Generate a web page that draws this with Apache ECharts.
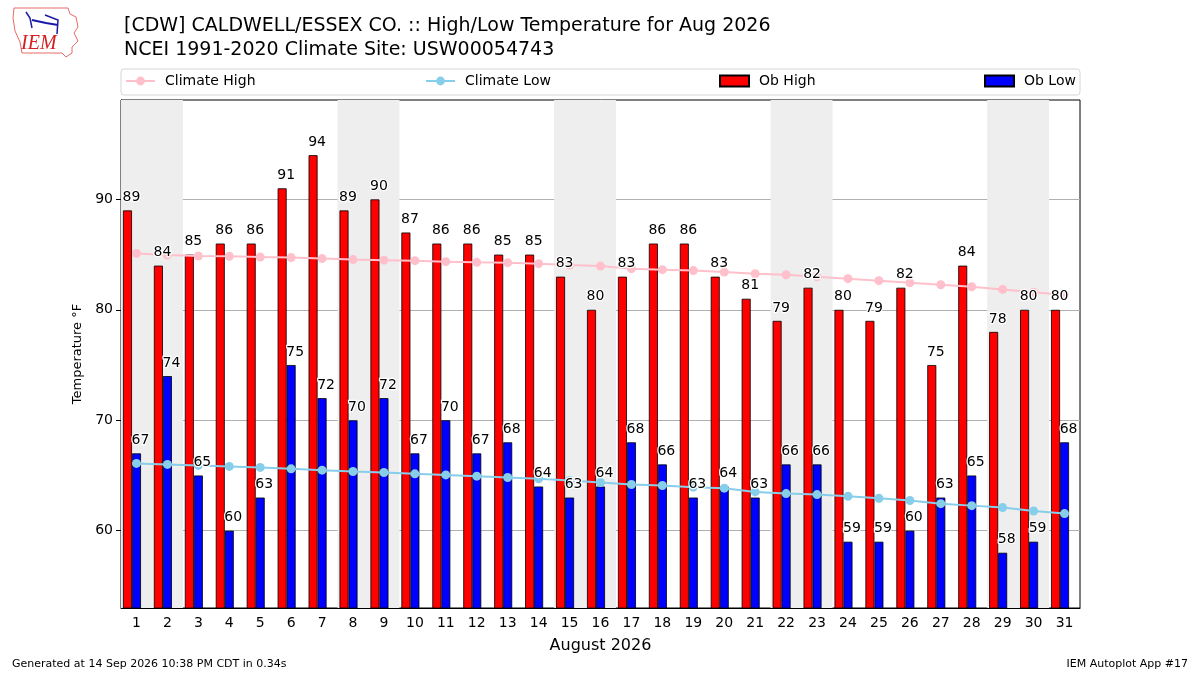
<!DOCTYPE html>
<html>
<head>
<meta charset="utf-8">
<title>CDW High/Low Temperature Aug 2026</title>
<script src="https://cdn.jsdelivr.net/npm/echarts@6.0.0/dist/echarts.min.js"></script>
<style>
    html, body { margin: 0; padding: 0; background: #fff; }
    #chart { width: 1200px; height: 675px; }
</style>
</head>
<body>
<div id="chart"></div>
<script>
// days of August 2026
const days = ['1','2','3','4','5','6','7','8','9','10','11','12','13','14','15','16',
    '17','18','19','20','21','22','23','24','25','26','27','28','29','30','31'];
// observed
const obHigh = [89,84,85,86,86,91,94,89,90,87,86,86,85,85,83,80,83,86,86,83,81,79,82,80,79,82,75,84,78,80,80];
const obLow = [67,74,65,60,63,75,72,70,72,67,70,67,68,64,63,64,68,66,63,64,63,66,66,59,59,60,63,65,58,59,68];
// NCEI 1991-2020 normals
const climateHigh = [85.1,84.96,84.87,84.85,84.78,84.73,84.64,84.55,84.5,84.45,84.36,84.3,84.27,84.18,84.05,83.96,
    83.73,83.64,83.55,83.42,83.27,83.18,83.0,82.82,82.64,82.45,82.27,82.09,81.85,81.6,81.36];
const climateLow = [66.09,66.0,65.91,65.82,65.73,65.6,65.48,65.36,65.27,65.15,65.05,64.94,64.82,64.7,64.55,64.36,
    64.18,64.09,63.94,63.85,63.51,63.36,63.27,63.12,62.94,62.73,62.45,62.27,62.09,61.78,61.55];
// weekends (Sat-Sun), day numbers
const weekends = [[1,2],[8,9],[15,16],[22,23],[29,30]];
const yTicks = [60,70,80,90];

const font = 'DejaVu Sans';
let myChart = echarts.init(document.getElementById('chart'));

let barLabel = {
    show: true,
    position: 'top',
    distance: 6,
    offset: [4, 0],
    color: '#000',
    fontFamily: font,
    fontSize: 14,
    textBorderColor: '#fff',
    textBorderWidth: 2.5
};
let legendBase = {
    top: 74,
    padding: 0,
    itemWidth: 29,
    itemHeight: 11,
    selectedMode: false,
    textStyle: {fontFamily: font, fontSize: 14, color: '#000', padding: [0, 0, 0, 5]}
};
// bar slot: two bars + an empty one so the pair sits left of the tick
function barSlot(name, data, axis, style, z, label) {
    return {
        name: name, type: 'bar', data: data, xAxisIndex: axis,
        barWidth: 9, barGap: 0, z: z, itemStyle: style, label: label,
        silent: axis === 1
    };
}
let hidden = {show: false, axisLine: {show: false}, axisTick: {show: false}, axisLabel: {show: false}, splitLine: {show: false}};

myChart.setOption({
    animation: false,
    backgroundColor: '#fff',
    title: {
        text: '[CDW] CALDWELL/ESSEX CO. :: High/Low Temperature for Aug 2026\nNCEI 1991-2020 Climate Site: USW00054743',
        left: 119,
        top: 9,
        textStyle: {fontFamily: font, fontSize: 19, fontWeight: 'normal', color: '#000', lineHeight: 24}
    },
    legend: [
        Object.assign({}, legendBase, {data: ['Climate High'], left: 125}),
        Object.assign({}, legendBase, {data: ['Climate Low'], left: 425}),
        Object.assign({}, legendBase, {data: [{name: 'Ob High', icon: 'rect'}], left: 719}),
        Object.assign({}, legendBase, {data: [{name: 'Ob Low', icon: 'rect'}], left: 984})
    ],
    graphic: [
        {type: 'rect', z: 0, shape: {x: 121, y: 69, width: 959, height: 26, r: 3},
            style: {fill: '#fff', stroke: '#d6d6d6', lineWidth: 1}},
        // IEM logo
        {type: 'polyline', z: 0, shape: {points: [[14,8],[68,8],[70,14],[76,17],[78,27],[74,33],[78,41],[72,47],[72,53],[66,57],[62,53],[22,53],[20,42],[15,31],[13,18],[14,8]]},
            style: {fill: 'none', stroke: '#e86a6a', lineWidth: 1}},
        {type: 'polyline', z: 0, shape: {points: [[32,20],[46,23],[58,25]]}, style: {stroke: '#1a1aa8', lineWidth: 2}},
        {type: 'polyline', z: 0, shape: {points: [[26,12],[30,18],[32,28]]}, style: {stroke: '#1a1aa8', lineWidth: 1.5}},
        {type: 'polyline', z: 0, shape: {points: [[45,15],[58,20],[57,34]]}, style: {stroke: '#1a1aa8', lineWidth: 1.5}},
        {type: 'text', z: 0, left: 21, top: 34,
            style: {text: 'IEM', fill: '#d42020', font: 'italic 20px "Liberation Serif"'}},
        // footer
        {type: 'text', left: 12, top: 659,
            style: {text: 'Generated at 14 Sep 2026 10:38 PM CDT in 0.34s', fill: '#000', font: '11px "DejaVu Sans"'}},
        {type: 'text', right: 12, top: 659,
            style: {text: 'IEM Autoplot App #17', fill: '#000', font: '11px "DejaVu Sans"'}}
    ],
    grid: {
        left: 121, right: 120, top: 100, bottom: 67,
        show: true, borderColor: '#000', borderWidth: 1, backgroundColor: 'transparent'
    },
    xAxis: [
        {
            type: 'category',
            data: days,
            name: 'August 2026',
            nameLocation: 'middle',
            nameGap: 30,
            nameTextStyle: {fontFamily: font, fontSize: 16, color: '#000'},
            axisLine: {lineStyle: {color: '#000', width: 1}},
            axisTick: {alignWithLabel: true, length: 5, lineStyle: {color: '#000'}},
            axisLabel: {fontFamily: font, fontSize: 14, color: '#000', margin: 8, interval: 0}
        },
        // same days, only carries the value labels above the climate lines
        Object.assign({type: 'category', data: days}, hidden),
        // numeric day axis for weekend bands
        Object.assign({type: 'value', min: 0.5, max: days.length + 0.5}, hidden)
    ],
    yAxis: {
        type: 'value',
        min: 53,
        max: 99,
        name: 'Temperature °F',
        nameLocation: 'middle',
        nameGap: 35,
        nameTextStyle: {fontFamily: font, fontSize: 13, color: '#000'},
        axisLine: {show: true, lineStyle: {color: '#000', width: 1}},
        axisTick: {show: true, length: 5, customValues: yTicks, lineStyle: {color: '#000'}},
        axisLabel: {fontFamily: font, fontSize: 14, color: '#000', margin: 8, customValues: yTicks},
        splitLine: {show: true, lineStyle: {color: '#b0b0b0', width: 1}}
    },
    series: [
        {
            name: 'weekend',
            type: 'line',
            xAxisIndex: 2,
            data: [],
            z: 0,
            silent: true,
            markArea: {
                silent: true,
                itemStyle: {color: '#eeeeee'},
                data: weekends.map(w => [{xAxis: w[0] - 0.5}, {xAxis: w[1] + 0.5}])
            }
        },
        barSlot('Ob High', obHigh, 0, {color: '#ff0000', borderColor: '#000', borderWidth: 0.8}, 2),
        barSlot('Ob Low', obLow, 0, {color: '#0000ff', borderColor: '#000', borderWidth: 0.8}, 2),
        barSlot('spacer', [], 0, {color: 'transparent'}, 2),
        {
            name: 'Climate High',
            type: 'line',
            data: climateHigh,
            z: 3,
            symbol: 'circle',
            symbolSize: 9,
            lineStyle: {color: '#ffc0cb', width: 2},
            itemStyle: {color: '#ffc0cb'}
        },
        {
            name: 'Climate Low',
            type: 'line',
            data: climateLow,
            z: 3,
            symbol: 'circle',
            symbolSize: 9,
            lineStyle: {color: '#87ceeb', width: 2},
            itemStyle: {color: '#87ceeb'}
        },
        barSlot('high labels', obHigh, 1, {color: 'transparent', borderWidth: 0}, 4, barLabel),
        barSlot('low labels', obLow, 1, {color: 'transparent', borderWidth: 0}, 4, barLabel),
        barSlot('label spacer', [], 1, {color: 'transparent'}, 4)
    ]
});
</script>
</body>
</html>
